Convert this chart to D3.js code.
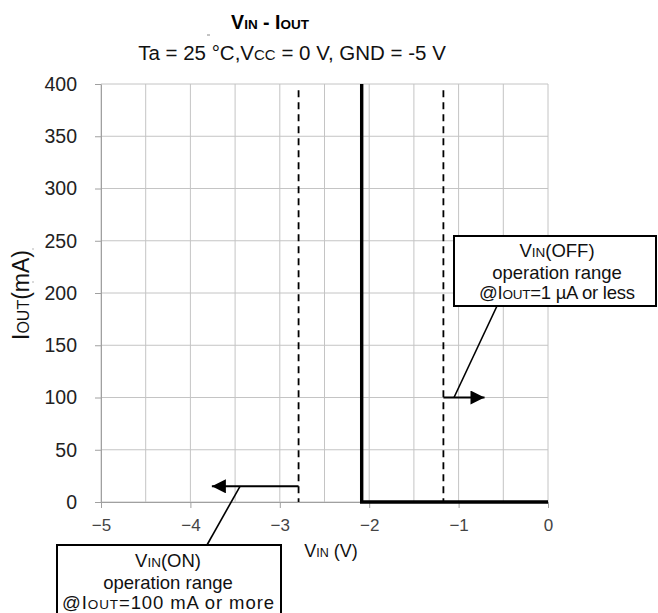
<!DOCTYPE html>
<html><head><meta charset="utf-8">
<script src="https://cdn.jsdelivr.net/npm/d3@7"></script>
<style>body{margin:0;background:#fff}svg{display:block}text{font-family:"Liberation Sans",Arial,sans-serif}</style>
</head><body>
<svg id="c" width="658" height="613"></svg>
<script>
const xTicks = [-5,-4,-3,-2,-1,0];
const xGrid = [-5,-4.5,-4,-3.5,-3,-2.5,-2,-1.5,-1,-0.5,0];
const yTicks = [0,50,100,150,200,250,300,350,400];
const curveX = [-2.084,-2.084,0];
const curveY = [400,0,0];
const vinOn = -2.79;
const vinOff = -1.17;
const arrowOn = {x0:-2.79, x1:-3.76, y:15};
const arrowOff = {x0:-1.17, x1:-0.71, y:100};

const svg = d3.select("#c");
const x = d3.scaleLinear().domain([-5,0]).range([101,548]);
const y = d3.scaleLinear().domain([0,400]).range([502,84]);

// grid
svg.append("g").selectAll("line").data(xGrid).join("line")
  .attr("x1",d=>x(d)).attr("x2",d=>x(d)).attr("y1",y(0)).attr("y2",y(400))
  .attr("stroke","#c4c4c4").attr("stroke-width",1);
svg.append("g").selectAll("line").data(yTicks).join("line")
  .attr("x1",x(-5)).attr("x2",x(0)).attr("y1",d=>y(d)).attr("y2",d=>y(d))
  .attr("stroke","#c4c4c4").attr("stroke-width",1);

// axes
const ya = svg.append("g").attr("transform",`translate(${x(-5)},0)`)
  .call(d3.axisLeft(y).tickValues(yTicks).tickSize(6).tickPadding(18).tickSizeOuter(0));
ya.select(".domain").attr("stroke","#a0a0a0");
ya.selectAll(".tick line").attr("stroke","#a0a0a0");
ya.selectAll("text").attr("font-size",19.5).attr("fill","#222").attr("font-family","Liberation Sans, Arial");
const xa = svg.append("g").attr("transform",`translate(0,${y(0)})`)
  .call(d3.axisBottom(x).tickValues(xTicks).tickSize(6).tickPadding(11).tickSizeOuter(0)
  .tickFormat(d=> d===0 ? "0" : "\u2212"+Math.abs(d)));
xa.select(".domain").attr("stroke","#a0a0a0");
xa.selectAll(".tick line").attr("stroke","#a0a0a0");
xa.selectAll("text").attr("font-size",17).attr("fill","#444").attr("font-family","Liberation Sans, Arial");

// dashed lines
[vinOn, vinOff].forEach(v=>{
  svg.append("line").attr("x1",x(v)).attr("x2",x(v)).attr("y1",y(394)).attr("y2",y(0))
    .attr("stroke","#000").attr("stroke-width",1.8).attr("stroke-dasharray","7,5");
});

// curve
const line = d3.line().x(d=>x(d[0])).y(d=>y(d[1]));
svg.append("path").datum(curveX.map((v,i)=>[v,curveY[i]])).attr("d",line)
  .attr("fill","none").attr("stroke","#000").attr("stroke-width",3.4);

// arrows
svg.append("defs").append("marker").attr("id","ah").attr("viewBox","0 0 10 10")
  .attr("refX",10).attr("refY",5).attr("markerWidth",16).attr("markerHeight",14)
  .attr("markerUnits","userSpaceOnUse").attr("orient","auto")
  .append("path").attr("d","M0,0L10,5L0,10Z").attr("fill","#000");
[arrowOn, arrowOff].forEach(a=>{
  svg.append("line").attr("x1",x(a.x0)).attr("x2",x(a.x1)).attr("y1",y(a.y)).attr("y2",y(a.y))
    .attr("stroke","#000").attr("stroke-width",2).attr("marker-end","url(#ah)");
});

// leader lines
svg.append("line").attr("x1",207).attr("y1",545).attr("x2",240).attr("y2",y(arrowOn.y))
  .attr("stroke","#000").attr("stroke-width",1.6);
svg.append("line").attr("x1",497).attr("y1",306).attr("x2",454).attr("y2",y(arrowOff.y))
  .attr("stroke","#000").attr("stroke-width",1.6);

// boxes
function box(x0,y0,w,h,lines,cx,ys,lastLen){
  svg.append("rect").attr("x",x0).attr("y",y0).attr("width",w).attr("height",h)
    .attr("fill","#fff").attr("stroke","#000").attr("stroke-width",2);
  lines.forEach((l,i)=>{
    const t = svg.append("text").attr("x",cx).attr("y",ys[i]).attr("text-anchor","middle")
      .attr("font-size",18.5).attr("fill","#111");
    if(i===lines.length-1) t.attr("textLength",lastLen).attr("lengthAdjust","spacing");
    l.forEach(seg=>{
      const ts = t.append("tspan").text(seg[0]);
      if(seg[1]) ts.attr("font-size",13.5);
    });
  });
}
box(57,545,224,80,[[["V"],["IN",1],["(ON)"]],[["operation range"]],[["@I"],["OUT",1],["=100 mA or more"]]],168,[567,589,609],212);
box(454,236,202,70,[[["V"],["IN",1],["(OFF)"]],[["operation range"]],[["@I"],["OUT",1],["=1 \u00b5A or less"]]],557,[257,279,299],156);

// titles
const t1 = svg.append("text").attr("x",270).attr("y",29).attr("text-anchor","middle")
  .attr("font-size",19.5).attr("font-weight","bold").attr("fill","#000");
t1.append("tspan").text("V"); t1.append("tspan").text("IN").attr("font-size",13.5);
t1.append("tspan").text(" - I"); t1.append("tspan").text("OUT").attr("font-size",13.5);
const t2 = svg.append("text").attr("x",292).attr("y",60).attr("text-anchor","middle")
  .attr("font-size",20.5).attr("fill","#111");
t2.append("tspan").text("Ta = 25 \u00b0C,V"); t2.append("tspan").text("CC").attr("font-size",15);
t2.append("tspan").text(" = 0 V, GND = -5 V");
svg.append("line").attr("x1",207).attr("x2",210).attr("y1",35).attr("y2",35).attr("stroke","#888");

// axis labels
const xl = svg.append("text").attr("x",331).attr("y",557).attr("text-anchor","middle")
  .attr("font-size",18).attr("fill","#111");
xl.append("tspan").text("V"); xl.append("tspan").text("IN").attr("font-size",12.5); xl.append("tspan").text(" (V)");
const yl = svg.append("text").attr("transform","translate(29,295) rotate(-90)").attr("text-anchor","middle")
  .attr("font-size",23).attr("fill","#111");
yl.append("tspan").text("I"); yl.append("tspan").text("OUT").attr("font-size",16); yl.append("tspan").text("(mA)");
svg.append("circle").attr("cx",33).attr("cy",249).attr("r",0.7).attr("fill","#999");
svg.append("circle").attr("cx",33).attr("cy",282).attr("r",0.7).attr("fill","#999");
</script>
</body></html>
